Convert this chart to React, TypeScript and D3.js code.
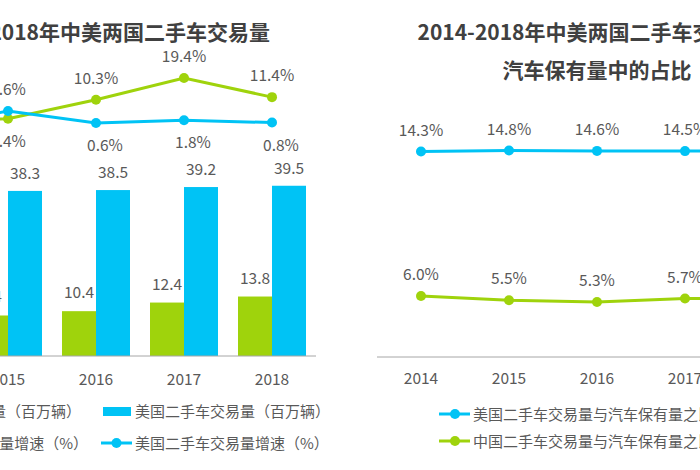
import React from 'react';
import * as d3 from 'd3';

// values (2014 points/bars of the left chart sit outside the crop)
const years = ['2014', '2015', '2016', '2017', '2018'];
const cnVolume = [9.2, 9.4, 10.4, 12.4, 13.8];
const usVolume = [37.1, 38.3, 38.5, 39.2, 39.5];
const cnGrowth = [1.0, 2.4, 10.3, 19.4, 11.4];
const usGrowth = [-1.0, 5.6, 0.6, 1.8, 0.8];
const usRatio = [14.3, 14.8, 14.6, 14.5, 14.5];
const cnRatio = [6.0, 5.5, 5.3, 5.7, 5.8];

const leftTitle = '2014-2018年中美两国二手车交易量';
const rightTitle = ['2014-2018年中美两国二手车交易量在', '汽车保有量中的占比'];
const leftLegend = [
    ['中国二手车交易量（百万辆）', '美国二手车交易量（百万辆）'],
    ['中国二手车交易量增速（%）', '美国二手车交易量增速（%）'],
];
const rightLegend = ['美国二手车交易量与汽车保有量之比', '中国二手车交易量与汽车保有量之比'];

const BLUE = '#00C3F5';
const GREEN = '#9FD30C';
const TEXT = '#595959';
const TITLE = '#404040';
const AXIS = '#a6a6a6';
const FONT = "'Noto Sans CJK SC', 'Noto Sans', sans-serif";

const App: React.FC = () => {
    const width = 700;
    const height = 470;

    // left chart: bars + growth lines
    const xL = d3.scaleBand().domain(years).range([-124, 316])
        .paddingInner(0.2273).paddingOuter(0.1136);
    const xSub = d3.scaleBand().domain(['cn', 'us']).range([0, xL.bandwidth()]);
    const yBar = d3.scaleLinear().domain([0, 40]).range([356, 183.6]);
    const yGrowth = d3.scaleLinear().domain([0, 20]).range([124.5, 76.5]);
    const cxL = (y: string) => (xL(y) as number) + xL.bandwidth() / 2;
    const growthLine = d3.line<number>((d, i) => cxL(years[i]), d => yGrowth(d));

    // right chart: ratio lines, each on its own axis
    const xR = d3.scaleBand().domain(years).range([377, 817]);
    const cxR = (y: string) => (xR(y) as number) + xR.bandwidth() / 2;
    const yUs = d3.scaleLinear().domain([0, 15]).range([180.1, 150.1]);
    const yCn = d3.scaleLinear().domain([0, 6]).range([347.6, 296]);
    const usLine = d3.line<number>((d, i) => cxR(years[i]), d => yUs(d));
    const cnLine = d3.line<number>((d, i) => cxR(years[i]), d => yCn(d));

    const growthSeries = [
        { key: 'cn', values: cnGrowth, other: usGrowth, color: GREEN },
        { key: 'us', values: usGrowth, other: cnGrowth, color: BLUE },
    ];

    return (
        <svg width={width} height={height} style={{ position: 'absolute', left: 0, top: 0 }}
            fontFamily={FONT}>
            <rect width={width} height={height} fill="#fff" />

            {/* ---- left chart ---- */}
            <text x={270} y={39.5} textAnchor="end" fontSize={21} fontWeight={700} fill={TITLE}>
                {leftTitle}
            </text>
            <g>
                {years.map((y, i) => (
                    <g key={y}>
                        <rect x={(xL(y) as number) + (xSub('cn') as number)} y={yBar(cnVolume[i])}
                            width={xSub.bandwidth()} height={yBar(0) - yBar(cnVolume[i])} fill={GREEN} />
                        <rect x={(xL(y) as number) + (xSub('us') as number)} y={yBar(usVolume[i])}
                            width={xSub.bandwidth()} height={yBar(0) - yBar(usVolume[i])} fill={BLUE} />
                    </g>
                ))}
            </g>
            <g fontSize={15.5} fill={TEXT} textAnchor="middle">
                {years.map((y, i) => (
                    <g key={y}>
                        <text x={(xL(y) as number) + (xSub('cn') as number) + xSub.bandwidth() / 2}
                            y={yBar(cnVolume[i]) - 13}>{cnVolume[i].toFixed(1)}</text>
                        <text x={(xL(y) as number) + (xSub('us') as number) + xSub.bandwidth() / 2}
                            y={yBar(usVolume[i]) - 12}>{usVolume[i].toFixed(1)}</text>
                    </g>
                ))}
            </g>
            <line x1={xL.range()[0]} x2={xL.range()[1]} y1={yBar(0)} y2={yBar(0)} stroke={AXIS} />
            <g fontSize={15.5} fill={TEXT} textAnchor="middle">
                {years.map(y => <text key={y} x={cxL(y)} y={384.5}>{y}</text>)}
            </g>
            {growthSeries.map(s => (
                <g key={s.key}>
                    <path d={growthLine(s.values) as string} fill="none" stroke={s.color} strokeWidth={3} />
                    {s.values.map((v, i) => (
                        <circle key={i} cx={cxL(years[i])} cy={yGrowth(v)} r={5} fill={s.color} />
                    ))}
                    {s.values.map((v, i) => {
                        const above = v >= s.other[i];
                        return (
                            <text key={'t' + i} x={cxL(years[i]) + (s.key === 'us' && !above ? 9 : 0)}
                                y={yGrowth(v) + (above ? -16 : 28)} fontSize={15.5} fill={TEXT}
                                textAnchor="middle">{v.toFixed(1)}%</text>
                        );
                    })}
                </g>
            ))}
            {/* left legend */}
            <g fontSize={15} fill={TEXT}>
                <text x={81} y={416.5} textAnchor="end">{leftLegend[0][0]}</text>
                <rect x={103} y={407} width={28} height={9} fill={BLUE} />
                <text x={135} y={416.5}>{leftLegend[0][1]}</text>
                <text x={88} y={448.5} textAnchor="end">{leftLegend[1][0]}</text>
                <line x1={101} x2={132} y1={443} y2={443} stroke={BLUE} strokeWidth={3} />
                <circle cx={116.5} cy={443} r={5} fill={BLUE} />
                <text x={135} y={448.5}>{leftLegend[1][1]}</text>
            </g>

            {/* ---- right chart ---- */}
            <g fontSize={21} fontWeight={700} fill={TITLE} textAnchor="middle">
                <text x={597} y={39.5}>{rightTitle[0]}</text>
                <text x={597} y={77.5}>{rightTitle[1]}</text>
            </g>
            <line x1={xR.range()[0]} x2={xR.range()[1]} y1={357} y2={357} stroke={AXIS} />
            <g fontSize={15.5} fill={TEXT} textAnchor="middle">
                {years.map(y => <text key={y} x={cxR(y)} y={383.5}>{y}</text>)}
            </g>
            <path d={usLine(usRatio) as string} fill="none" stroke={BLUE} strokeWidth={3} />
            <path d={cnLine(cnRatio) as string} fill="none" stroke={GREEN} strokeWidth={3} />
            {years.map((y, i) => (
                <g key={y}>
                    <circle cx={cxR(y)} cy={yUs(usRatio[i])} r={5} fill={BLUE} />
                    <circle cx={cxR(y)} cy={yCn(cnRatio[i])} r={5} fill={GREEN} />
                    <text x={cxR(y)} y={yUs(usRatio[i]) - 16} fontSize={15.5} fill={TEXT}
                        textAnchor="middle">{usRatio[i].toFixed(1)}%</text>
                    <text x={cxR(y)} y={yCn(cnRatio[i]) - 16} fontSize={15.5} fill={TEXT}
                        textAnchor="middle">{cnRatio[i].toFixed(1)}%</text>
                </g>
            ))}
            {/* right legend */}
            <g fontSize={15} fill={TEXT}>
                {rightLegend.map((label, i) => {
                    const color = i === 0 ? BLUE : GREEN;
                    const ly = 414 + i * 27;
                    return (
                        <g key={label}>
                            <line x1={439} x2={470} y1={ly} y2={ly} stroke={color} strokeWidth={3} />
                            <circle cx={455} cy={ly} r={5} fill={color} />
                            <text x={473} y={ly + 5.5}>{label}</text>
                        </g>
                    );
                })}
            </g>
        </svg>
    );
};

export default App;
